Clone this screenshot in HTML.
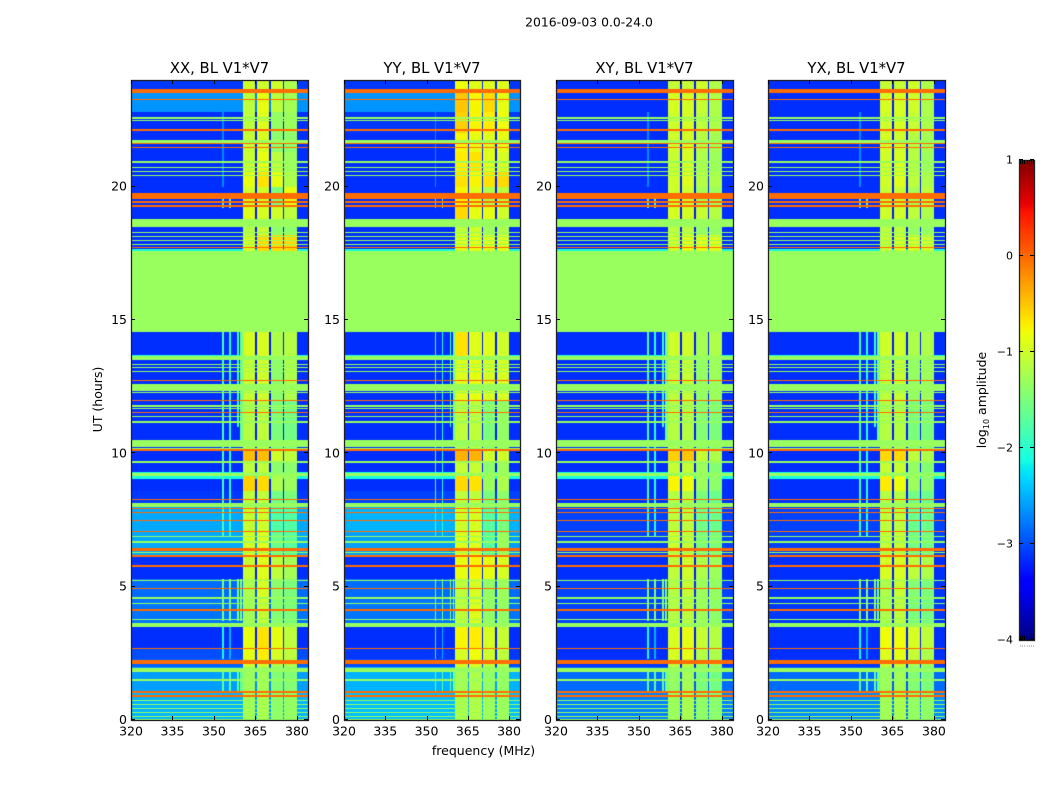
<!DOCTYPE html>
<html>
<head>
<meta charset="utf-8">
<title>2016-09-03 waterfall</title>
<style>
html,body{margin:0;padding:0;background:#fff;}
#figure{position:relative;width:1050px;height:800px;overflow:hidden;background:#fff;}
canvas{position:absolute;display:block;}
svg{position:absolute;left:0;top:0;}
text{font-family:"DejaVu Sans","Liberation Sans",sans-serif;fill:#000;}
</style>
</head>
<body>
<div id="figure">
<canvas id="heat0"></canvas>
<canvas id="heat1"></canvas>
<canvas id="heat2"></canvas>
<canvas id="heat3"></canvas>
<canvas id="cbar"></canvas>
<svg id="overlay" width="1050" height="800" viewBox="0 0 1050 800">
<text x="589" y="26.5" font-size="12.4" text-anchor="middle">2016-09-03 0.0-24.0</text>
<text x="483.5" y="755" font-size="12.5" text-anchor="middle">frequency (MHz)</text>
<text x="0" y="0" font-size="12.5" text-anchor="middle" transform="translate(102,399.5) rotate(-90)">UT (hours)</text>
<text x="0" y="0" font-size="12.5" text-anchor="middle" transform="translate(986,400) rotate(-90)">log<tspan font-size="8" dy="3">10</tspan><tspan dy="-3"> amplitude</tspan></text>
</svg>
</div>
<script>
const panelTitles = ["XX, BL V1*V7", "YY, BL V1*V7", "XY, BL V1*V7", "YX, BL V1*V7"];
const xTicks = [320, 335, 350, 365, 380];
const yTicks = [0, 5, 10, 15, 20];
const colorbarTicks = [1, 0, -1, -2, -3, -4];
const colorbarMinorFractions = [0.05, 0.2, 0.35, 0.5, 0.65, 0.8, 0.95];

/* UT edges of the segments used by the level tables */
const segmentEdges = [0,1,2,2.3,2.7,3.6,4.5,5.3,6.1,7,8,8.6,9.2,9.7,10.2,12,13.5,14.55,17.62,18.2,18.52,19.3,20,20.6,21.3,22,22.8,23.5,24];
/* Frequency edges of the four bright sub-bands (MHz) */
const subBandEdges = [360.5, 365.2, 370.2, 375.2, 380];

/* log10 amplitude per segment: [background, sub-band 1, 2, 3, 4] */
const xxLevels = [
[-2.5,-1.25,-1.2,-1.4,-1.35],[-2.6,-1.3,-1.25,-1.45,-1.45],[-2.9,-1.0,-1.0,-1.2,-1.2],[-3,-.85,-.7,-.95,-1.1],
[-3.15,-.85,-.65,-.85,-1.1],[-2.8,-1.25,-1.05,-1.45,-1.5],[-2.85,-1.2,-.95,-1.4,-1.5],[-3.15,-1.05,-.9,-1.1,-1.25],
[-2.55,-.95,-.9,-1.6,-1.7],[-2.55,-1.05,-1.0,-1.75,-1.75],[-3.1,-1.1,-1.1,-1.55,-1.5],[-3.15,-.55,-.6,-1.2,-1.3],
[-3.15,-1.1,-1.1,-1.4,-1.4],[-3.15,-.45,-.45,-1.0,-1.1],[-3.15,-1.15,-1.1,-1.5,-1.55],[-3.15,-1.05,-1.0,-1.4,-1.2],
[-3.15,-.95,-.95,-1.2,-1.15],[-1.32,-1.32,-1.32,-1.32,-1.32],[-3.15,-.95,-.6,-.6,-.6],[-3.15,-1.15,-1.05,-1.4,-1.4],
[-3.15,-.9,-.95,-1.0,-1.1],[-3.15,-1.0,-1.0,-1.5,-.85],[-3.15,-.85,-.65,-.85,-1.2],[-3.15,-1.05,-.85,-1.1,-1.3],
[-3.15,-1.05,-.95,-1.4,-1.4],[-3.15,-1.1,-.9,-1.35,-1.3],[-2.65,-1.1,-.85,-1.1,-1.25],[-3.1,-1.0,-1.0,-1.0,-1.2]];
const yyLevels = [
[-2.45,-1.2,-1.15,-1.3,-1.3],[-2.5,-1.25,-1.2,-1.35,-1.35],[-3,-1.0,-.95,-1.1,-1.15],[-3.1,-.95,-.8,-1.0,-1.1],
[-3.15,-.75,-.7,-.95,-1.05],[-2.8,-1.1,-.9,-1.35,-1.35],[-2.85,-1.1,-.95,-1.35,-1.3],[-3.15,-.85,-.75,-.85,-.95],
[-2.6,-.9,-.9,-1.7,-1.3],[-2.5,-1.0,-.95,-1.7,-1.5],[-3.05,-1.1,-1.1,-1.5,-1.4],[-3.15,-.6,-.65,-1.3,-1.2],
[-3.15,-1.05,-1.05,-1.4,-1.3],[-3.15,-.4,-.4,-1.0,-1.0],[-3.15,-1.1,-1.1,-1.5,-1.35],[-3.15,-.9,-.85,-.95,-.95],
[-3.15,-.65,-.9,-.9,-1.0],[-1.32,-1.32,-1.32,-1.32,-1.32],[-3.15,-.9,-.85,-.9,-.9],[-3.15,-1.1,-1.0,-1.3,-1.2],
[-3.15,-.6,-.85,-.85,-1.0],[-3.15,-.75,-.9,-1.2,-1.1],[-3.15,-.65,-.75,-.65,-.6],[-3.15,-.7,-.65,-.9,-.95],
[-3.15,-.75,-.85,-.9,-.85],[-3.1,-.55,-.75,-.7,-.8],[-2.65,-.5,-.75,-.6,-.85],[-3.1,-.8,-.9,-.9,-.9]];
const xyLevels = [
[-2.75,-1.3,-1.2,-1.4,-1.45],[-2.85,-1.35,-1.25,-1.5,-1.55],[-3.1,-1.1,-1.1,-1.3,-1.3],[-3.15,-.95,-.85,-1.15,-1.2],
[-3.15,-.95,-.85,-1.05,-1.15],[-3.05,-1.15,-1.1,-1.3,-1.4],[-3.05,-1.15,-1.05,-1.3,-1.35],[-3.15,-1.1,-1.0,-1.2,-1.3],
[-3.05,-1.0,-1.05,-1.5,-1.5],[-3.05,-1.1,-1.1,-1.55,-1.6],[-3.15,-1.15,-1.15,-1.5,-1.6],[-3.15,-.75,-.8,-1.3,-1.4],
[-3.15,-1.05,-1.05,-1.3,-1.45],[-3.15,-.55,-.5,-1.05,-1.2],[-3.15,-1.15,-1.15,-1.45,-1.5],[-3.15,-1.1,-1.05,-1.35,-1.3],
[-3.15,-1.0,-1.0,-1.25,-1.2],[-1.32,-1.32,-1.32,-1.32,-1.32],[-3.15,-1.0,-.85,-.85,-.9],[-3.15,-1.1,-1.1,-1.35,-1.35],
[-3.15,-.95,-.95,-1.05,-1.15],[-3.15,-1.0,-1.0,-1.25,-1.3],[-3.15,-1.0,-.9,-1.15,-1.2],[-3.15,-1.05,-.95,-1.2,-1.3],
[-3.15,-1.0,-.95,-1.15,-1.25],[-3.15,-1.0,-.95,-1.1,-1.2],[-3.15,-.95,-.95,-1.05,-1.2],[-3.15,-1.05,-1.05,-1.0,-1.2]];
const yxLevels = [
[-2.7,-1.25,-1.2,-1.35,-1.4],[-2.85,-1.3,-1.25,-1.45,-1.5],[-3.1,-1.05,-1.05,-1.25,-1.3],[-3.15,-.9,-.85,-1.05,-1.2],
[-3.15,-.8,-.8,-.95,-1.1],[-3.1,-1.2,-1.1,-1.5,-1.55],[-3.1,-1.2,-1.05,-1.45,-1.5],[-3.15,-.95,-.95,-1.1,-1.2],
[-3.05,-1.05,-1.05,-1.55,-1.55],[-3.05,-1.1,-1.1,-1.6,-1.6],[-3.15,-1.15,-1.15,-1.55,-1.6],[-3.15,-.7,-.8,-1.3,-1.4],
[-3.15,-1.05,-1.05,-1.35,-1.45],[-3.15,-.6,-.6,-1.1,-1.2],[-3.15,-1.15,-1.15,-1.5,-1.5],[-3.15,-1.1,-1.05,-1.35,-1.3],
[-3.15,-1.0,-1.0,-1.2,-1.2],[-1.32,-1.32,-1.32,-1.32,-1.32],[-3.15,-1.05,-.95,-.95,-1.0],[-3.15,-1.1,-1.1,-1.35,-1.35],
[-3.15,-1.0,-1.0,-1.1,-1.2],[-3.15,-1.05,-1.05,-1.25,-1.1],[-3.15,-1.0,-.9,-1.1,-1.2],[-3.15,-1.0,-.95,-1.15,-1.3],
[-3.15,-.95,-1.0,-1.15,-1.25],[-3.15,-1.0,-.95,-1.05,-1.2],[-3.15,-.95,-.95,-1.0,-1.2],[-3.15,-1.05,-1.05,-1.0,-1.2]];
const panelLevels = [xxLevels, yyLevels, xyLevels, yxLevels];

/* Full-width rows flagged in every polarisation (UT hours) */
const orangeLines = [23.27,22.11,21.61,21.47,19.56,19.41,19.26,17.73,12.74,11.99,11.54,10.11,8.26,7.92,7.78,7.49,7.05,5.76,4.94,4.11,2.69];
const orangeBands = [[23.5,23.66],[19.65,19.75],[6.38,6.46],[6.12,6.2],[2.15,2.28],[1.0,1.1],[.87,.96]];
const greenLines = [22.55,22.49,21.74,21.66,20.91,20.72,20.59,20.44,18.26,18.1,17.97,17.84,13.34,13.21,13.09,12.25,11.79,11.67,11.16,10.25,10.19,9.66,6.87,6.67,6.25,4.56,4.37,3.75,.74,.59,.44,.29,.14,.02];
const greenBands = [[18.52,18.82],[14.55,17.62],[13.52,13.66],[12.39,12.62],[11.37,11.44],[10.31,10.54],[9.15,9.25],[8.01,8.19],[5.24,5.3],[3.525,3.675],[1.84,1.98],[1.46,1.55]];
const cyanBands = [[13.66,13.72],[17.62,17.66],[9.25,9.3],[9.09,9.15]];
/* Narrow vertical interference: [MHz, UT start, UT end, level] */
const interference = [
[353.3,1,1.9,-1.7],[355.9,1,1.9,-1.7],[358.7,1,1.9,-1.7],[360,1,1.9,-1.6],
[353.3,2.3,3.6,-2.1],[355.9,2.3,3.6,-2.5],
[353.3,3.7,5.3,-1.5],[355.9,3.7,5.3,-1.5],[358.7,3.7,5.3,-1.5],[359.7,3.7,5.3,-1.5],
[353.3,6.9,14.55,-1.8],[355.9,6.9,14.55,-2],[358.7,11,14.55,-1.9],[360,10.5,14.55,-1.6],
[353.3,19.2,19.7,-1.8],[355.9,19.2,19.7,-1.6],[353.3,20,22.8,-2.7]];

const FLAG_LEVEL = -1.32, RFI_LEVEL = -0.02, CYAN_LEVEL = -2.1;
const ROWS = 480, CHANNELS = 128, UT_STEP = 0.05, MHZ_STEP = 0.5;
const X_MIN = 320, X_MAX = 384, Y_MIN = 0, Y_MAX = 24;
const panelLeft = [131, 344, 556, 768], panelWidth = [177, 176, 177, 177], panelTop = 80, panelHeight = 640;
const cbLeft = 1019, cbTop = 160, cbWidth = 15, cbHeight = 480;
const NS = "http://www.w3.org/2000/svg";
const overlay = document.getElementById("overlay");

function xScale(p, mhz) { return panelLeft[p] + (mhz - X_MIN) / (X_MAX - X_MIN) * panelWidth[p]; }
function yScale(ut) { return panelTop + panelHeight - (ut - Y_MIN) / (Y_MAX - Y_MIN) * panelHeight; }
function cbScale(v) { return cbTop + (1 - v) / 5 * cbHeight; }

function ramp(x, pts) {
  for (let i = 1; i < pts.length; i++) {
    if (x <= pts[i][0]) {
      const a = pts[i - 1], b = pts[i];
      return a[1] + (b[1] - a[1]) * (x - a[0]) / (b[0] - a[0]);
    }
  }
  return pts[pts.length - 1][1];
}
function jet(v) {
  const x = Math.min(1, Math.max(0, (v + 4) / 5));
  const r = ramp(x, [[0,0],[.35,0],[.66,1],[.89,1],[1,.5]]);
  const g = ramp(x, [[0,0],[.125,0],[.375,1],[.64,1],[.91,0],[1,0]]);
  const b = ramp(x, [[0,.5],[.11,1],[.34,1],[.65,0],[1,0]]);
  return "rgb(" + Math.round(r * 255) + "," + Math.round(g * 255) + "," + Math.round(b * 255) + ")";
}
function rowOf(ut) { return Math.floor(ut / UT_STEP); }

const rowFlag = new Array(ROWS).fill(null);
const rowCyan = new Array(ROWS).fill(false);
function markBands(bands, level) {
  bands.forEach(function (b) {
    for (let r = rowOf(b[0]); r < Math.max(rowOf(b[1]), rowOf(b[0]) + 1); r++) { rowFlag[r] = level; }
  });
}
markBands(greenBands, FLAG_LEVEL);
greenLines.forEach(function (u) { rowFlag[rowOf(u)] = FLAG_LEVEL; });
markBands(orangeBands, RFI_LEVEL);
orangeLines.forEach(function (u) { rowFlag[rowOf(u)] = RFI_LEVEL; });
cyanBands.forEach(function (b) {
  for (let r = rowOf(b[0]); r < rowOf(b[1]); r++) { rowCyan[r] = true; }
});

function segmentOf(ut) {
  for (let i = 0; i < segmentEdges.length - 1; i++) {
    if (ut < segmentEdges[i + 1]) return i;
  }
  return segmentEdges.length - 2;
}
function cellValue(levels, r, mhz) {
  if (rowFlag[r] !== null) return rowFlag[r];
  const ut = (r + 0.5) * UT_STEP;
  const row = levels[segmentOf(ut)];
  let v = row[0];
  if (mhz >= subBandEdges[0] && mhz < subBandEdges[4]) {
    for (let s = 0; s < 4; s++) {
      if (mhz < subBandEdges[s + 1]) { v = row[s + 1]; break; }
    }
    for (let s = 1; s < 4; s++) {
      if (Math.abs(mhz - subBandEdges[s]) < MHZ_STEP * 0.5) { v = row[0] - 0.1; }
    }
  }
  interference.forEach(function (q) {
    if (Math.abs(mhz - q[0]) <= MHZ_STEP / 2 && ut >= q[1] && ut <= q[2]) { v = Math.max(v, q[3]); }
  });
  if (rowCyan[r]) v = Math.max(v, CYAN_LEVEL);
  return v;
}

function drawPanel(p) {
  const c = document.getElementById("heat" + p);
  c.width = panelWidth[p];
  c.height = panelHeight;
  c.style.left = panelLeft[p] + "px";
  c.style.top = panelTop + "px";
  const ctx = c.getContext("2d");
  const levels = panelLevels[p];
  for (let r = 0; r < ROWS; r++) {
    const ut = r * UT_STEP;
    const y1 = Math.round(yScale(ut + UT_STEP)) - panelTop;
    const y0 = Math.round(yScale(ut)) - panelTop;
    for (let k = 0; k < CHANNELS; k++) {
      const f = X_MIN + k * MHZ_STEP;
      const x0 = Math.round(xScale(p, f)) - panelLeft[p];
      const x1 = Math.round(xScale(p, f + MHZ_STEP)) - panelLeft[p];
      ctx.fillStyle = jet(cellValue(levels, r, f + MHZ_STEP / 2));
      ctx.fillRect(x0, y1, x1 - x0, y0 - y1);
    }
  }
}

function addLine(x1, y1, x2, y2, name, color) {
  const el = document.createElementNS(NS, "line");
  el.setAttribute("x1", x1);
  el.setAttribute("y1", y1);
  el.setAttribute("x2", x2);
  el.setAttribute("y2", y2);
  el.setAttribute("stroke", color || "#000");
  el.setAttribute("stroke-width", "1");
  
  
  overlay.appendChild(el);
}
function addText(x, y, str, size, anchor, name) {
  const el = document.createElementNS(NS, "text");
  el.setAttribute("x", x);
  el.setAttribute("y", y);
  el.setAttribute("font-size", size);
  el.setAttribute("text-anchor", anchor);
  
  
  el.textContent = str;
  overlay.appendChild(el);
}
function addFrame(x, y, w, h, name) {
  const el = document.createElementNS(NS, "rect");
  el.setAttribute("x", x + 0.5);
  el.setAttribute("y", y + 0.5);
  el.setAttribute("width", w);
  el.setAttribute("height", h);
  el.setAttribute("fill", "none");
  el.setAttribute("stroke", "#222");
  el.setAttribute("stroke-width", "1.3");
  
  
  overlay.appendChild(el);
}
function fmt(v) { return v < 0 ? "\u2212" + Math.abs(v) : String(v); }

panelTitles.forEach(function (title, p) {
  drawPanel(p);
  const left = panelLeft[p], right = left + panelWidth[p], top = panelTop, bottom = top + panelHeight;
  addFrame(left, top, panelWidth[p], panelHeight, "panel-frame");
  addText(left + panelWidth[p] / 2, 73, title, 14.8, "middle", "panel-title");
  xTicks.forEach(function (t) {
    const x = Math.round(xScale(p, t)) + 0.5;
    addLine(x, bottom, x, bottom - 4, "x-tick");
    addLine(x, top, x, top + 4, "x-tick-top");
    addText(xScale(p, t), 735.5, String(t), 12.5, "middle", "x-tick-label");
  });
  yTicks.forEach(function (t) {
    const y = Math.round(yScale(t)) - 0.5;
    addLine(left, y, left + 4, y, "y-tick");
    addLine(right, y, right - 4, y, "y-tick-right");
    addText(left - 4, yScale(t) + 4, String(t), 12.5, "end", "y-tick-label");
  });
});

(function drawColorbar() {
  const c = document.getElementById("cbar");
  c.width = cbWidth;
  c.height = cbHeight;
  c.style.left = cbLeft + "px";
  c.style.top = cbTop + "px";
  const ctx = c.getContext("2d");
  for (let y = 0; y < cbHeight; y++) {
    ctx.fillStyle = jet(1 - (y + 0.5) / cbHeight * 5);
    ctx.fillRect(0, y, cbWidth, 1);
  }
  addFrame(cbLeft, cbTop, cbWidth, cbHeight, "colorbar-frame");
  colorbarTicks.forEach(function (v) {
    const y = Math.round(cbScale(v)) - 0.5;
    addLine(cbLeft, y, cbLeft + 4, y, "colorbar-tick");
    addLine(cbLeft + cbWidth, y, cbLeft + cbWidth - 4, y, "colorbar-tick-right");
    addText(cbLeft - 6, cbScale(v) + 3.5, fmt(v), 11, "end", "colorbar-tick-label");
  });
  colorbarMinorFractions.forEach(function (q) {
    const x = Math.round(cbLeft + q * cbWidth) + 0.5;
    addLine(x, cbTop, x, cbTop + 4, "colorbar-minor-tick");
    addLine(x, cbTop + cbHeight, x, cbTop + cbHeight - 4, "colorbar-minor-tick");
    addLine(x - 0.5, 646, x + 0.5, 646, "colorbar-minor-dot", "#888");
  });
})();
</script>
</body>
</html>
